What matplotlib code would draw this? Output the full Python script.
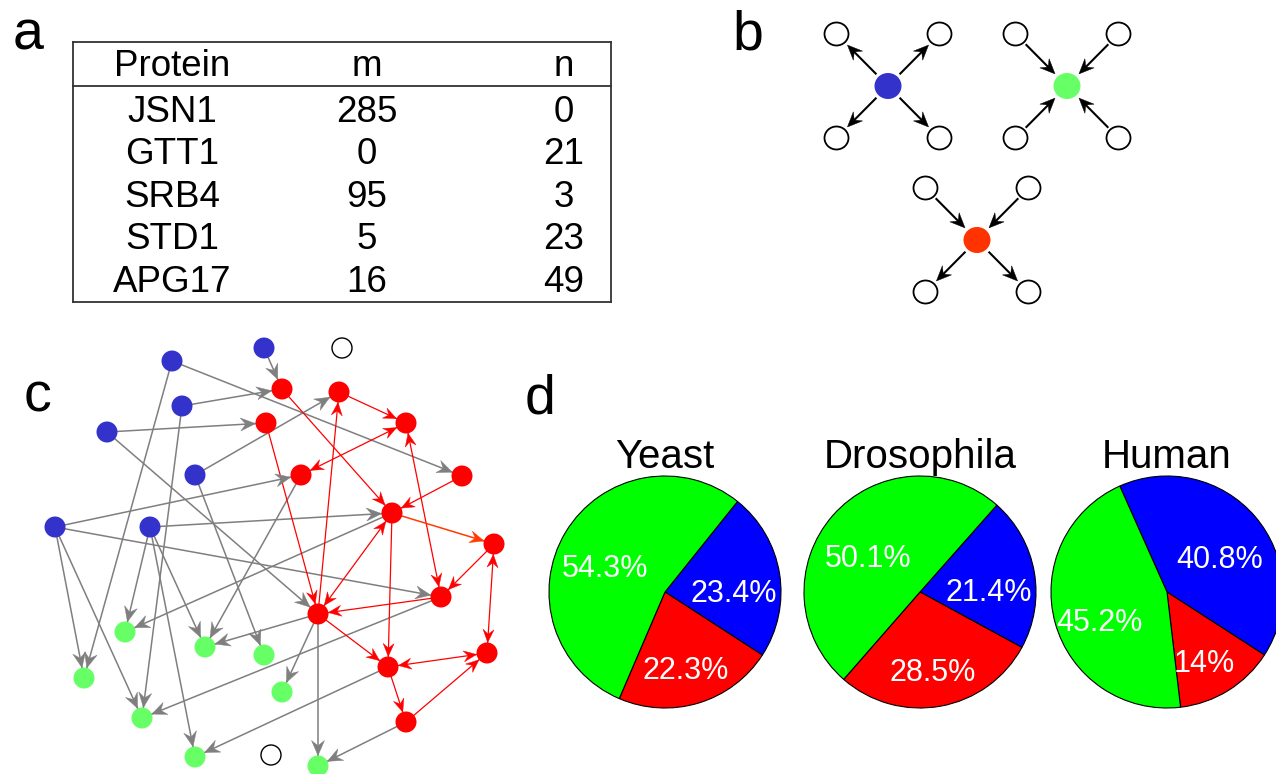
import numpy as np
import matplotlib
matplotlib.use('Agg')
import matplotlib.pyplot as plt
from matplotlib.patches import Circle, Ellipse, Polygon

plt.rcParams['font.family'] = ['Liberation Sans', 'DejaVu Sans']

W, H = 1276, 774

# ---- panel a: table ----
table_header = ['Protein', 'm', 'n']
proteins = ['JSN1', 'GTT1', 'SRB4', 'STD1', 'APG17']
m_vals = [285, 0, 95, 5, 16]
n_vals = [0, 21, 3, 23, 49]

# ---- panel c: network ----
blue_nodes = ['B1', 'B2', 'B3', 'B4', 'B5', 'B6', 'B7']
red_nodes = ['R1', 'R2', 'R3', 'R4', 'R5', 'R6', 'R7', 'R8', 'R9', 'R10', 'R11', 'R12', 'R13']
green_nodes = ['G1', 'G2', 'G3', 'G4', 'G5', 'G6', 'G7', 'G8']
isolated_nodes = ['E1', 'E2']

gray_edges = [('B2', 'R1'), ('B3', 'R1'), ('B1', 'R6'), ('B4', 'R3'), ('B4', 'R9'),
              ('B5', 'R2'), ('B5', 'G3'), ('B6', 'R5'), ('B6', 'R10'), ('B6', 'G4'),
              ('B6', 'G6'), ('B1', 'G4'), ('B3', 'G6'), ('B7', 'R7'), ('B7', 'G1'),
              ('B7', 'G2'), ('B7', 'G7'), ('R5', 'G2'), ('R7', 'G1'), ('R9', 'G2'),
              ('R9', 'G5'), ('R9', 'G8'), ('R10', 'G6'), ('R12', 'G7'), ('R13', 'G8')]
red_edges = [('R1', 'R7'), ('R2', 'R4'), ('R6', 'R7'), ('R3', 'R9'), ('R9', 'R2'),
             ('R7', 'R12'), ('R8', 'R10'), ('R10', 'R9'), ('R9', 'R12'), ('R12', 'R13'),
             ('R13', 'R11')]
red_mutual = [('R4', 'R5'), ('R7', 'R9'), ('R4', 'R10'), ('R8', 'R11'), ('R12', 'R11')]
orange_edges = [('R7', 'R8')]

# ---- panel d: pies ----
species = ['Yeast', 'Drosophila', 'Human']
blue_pct = [23.4, 21.4, 40.8]
red_pct = [22.3, 28.5, 14.0]
green_pct = [54.3, 50.1, 45.2]
start_angles = [51.3, 48.5, 114]

# layout (pixel positions, y downwards)
layout = {
    'B1': (172, 361), 'B2': (264, 348), 'B3': (182, 406), 'B4': (107, 432),
    'B5': (195, 475), 'B6': (55, 527), 'B7': (150, 527),
    'R1': (282, 389), 'R2': (339, 392), 'R3': (266, 423), 'R4': (406, 423),
    'R5': (301, 475), 'R6': (462, 476), 'R7': (392, 513), 'R8': (494, 544),
    'R9': (318, 614), 'R10': (441, 597), 'R11': (487, 653), 'R12': (388, 667),
    'R13': (406, 722),
    'G1': (125, 632), 'G2': (205, 647), 'G3': (264, 655), 'G4': (84, 678),
    'G5': (282, 692), 'G6': (142, 718), 'G7': (195, 757), 'G8': (318, 766),
    'E1': (342, 348), 'E2': (271, 755),
}
NODE_R = 10.5

fig = plt.figure(figsize=(W / 100, H / 100), dpi=100)
ax = fig.add_axes([0, 0, 1, 1])
ax.set_xlim(0, W)
ax.set_ylim(H, 0)
ax.axis('off')


def arrow_head(tip, u, length, width, color, z=3):
    u = np.asarray(u, float)
    p = np.array([-u[1], u[0]])
    tip = np.asarray(tip, float)
    back = tip - length * u
    notch = tip - 0.65 * length * u
    pts = [tip, back + p * width / 2, notch, back - p * width / 2]
    ax.add_patch(Polygon(pts, closed=True, fc=color, ec=color, lw=0.3, zorder=z))
    return notch


def edge(a, b, color, lw, both=False, L=14, Wd=12):
    pa = np.array(layout[a], float)
    pb = np.array(layout[b], float)
    u = (pb - pa) / np.linalg.norm(pb - pa)
    ax.plot([pa[0], pb[0]], [pa[1], pb[1]], color=color, lw=lw, zorder=2,
            solid_capstyle='butt')
    arrow_head(pb - u * NODE_R, u, L, Wd, color)
    if both:
        arrow_head(pa + u * NODE_R, -u, L, Wd, color)


# ---- panel a ----
tx0, tx1, ty0, ty1, ty_head = 73, 611, 42, 302, 86
for xs, ys in [([tx0, tx1], [ty0, ty0]), ([tx0, tx1], [ty1, ty1]),
               ([tx0, tx0], [ty0, ty1]), ([tx1, tx1], [ty0, ty1]),
               ([tx0, tx1], [ty_head, ty_head])]:
    ax.plot(xs, ys, color='#333333', lw=1.3, solid_capstyle='projecting')
col_x = [172, 367, 564]
for cx, label in zip(col_x, table_header):
    ax.text(cx, 76, label, ha='center', va='baseline', fontsize=26.5)
row_base = 121.7
row_step = 42.5
for i, (p, m, n) in enumerate(zip(proteins, m_vals, n_vals)):
    yb = row_base + i * row_step
    for cx, s in zip(col_x, [p, str(m), str(n)]):
        ax.text(cx, yb, s, ha='center', va='baseline', fontsize=26.5)

# panel letters
for s, (x, y) in {'a': (28, 49), 'b': (748, 50), 'c': (38, 412), 'd': (540, 413)}.items():
    ax.text(x, y, s, ha='center', va='baseline', fontsize=40)

# ---- panel b: motifs ----
motifs = [((888, 86), '#3333cc', ['out', 'out', 'out', 'out']),
          ((1067, 86), '#66ff66', ['in', 'in', 'in', 'in']),
          ((977, 240), '#ff3300', ['in', 'in', 'out', 'out'])]
offsets = [(-51.5, -52), (51.5, -52), (-51.5, 52), (51.5, 52)]
for (cx, cy), col, dirs in motifs:
    ax.add_patch(Ellipse((cx, cy), 27, 26, fc=col, ec='none', zorder=4))
    for (dx, dy), d in zip(offsets, dirs):
        sx, sy = cx + dx, cy + dy
        ax.add_patch(Ellipse((sx, sy), 24, 23, fc='white', ec='black', lw=1.3, zorder=4))
        c = np.array([cx, cy], float)
        s = np.array([sx, sy], float)
        u = (s - c) / np.linalg.norm(s - c)
        if d == 'out':
            start, tip, uu = c + 17.5 * u, s - 15.5 * u, u
        else:
            start, tip, uu = s - 15.5 * u, c + 17 * u, -u
        notch = arrow_head(tip, uu, 15, 13, 'black')
        ax.plot([start[0], notch[0]], [start[1], notch[1]], color='black', lw=1.5, zorder=3)

# ---- panel c ----
for a, b in gray_edges:
    edge(a, b, '#7f7f7f', 1.1, L=15, Wd=13)
for a, b in red_edges:
    edge(a, b, '#ff0000', 0.9, L=13, Wd=11)
for a, b in red_mutual:
    edge(a, b, '#ff0000', 0.9, both=True, L=13, Wd=11)
for a, b in orange_edges:
    edge(a, b, '#ff3c00', 1.1, L=14, Wd=12)

for names, col in [(blue_nodes, '#3333cc'), (red_nodes, '#ff0000'), (green_nodes, '#66ff66')]:
    for nm in names:
        ax.add_patch(Circle(layout[nm], NODE_R, fc=col, ec='none', zorder=4))
for nm in isolated_nodes:
    ax.add_patch(Circle(layout[nm], 10, fc='white', ec='black', lw=1.0, zorder=4))

# ---- panel d: pies ----
pie_cx = [665, 920, 1167]
pie_cy = 592
pie_r = 116
for i, name in enumerate(species):
    pax = fig.add_axes([(pie_cx[i] - pie_r) / W, (H - pie_cy - pie_r) / H,
                        2 * pie_r / W, 2 * pie_r / H])
    vals = [blue_pct[i], red_pct[i], green_pct[i]]
    wedges, texts, autotexts = pax.pie(
        vals, colors=['#0000ff', '#ff0000', '#00ff00'], startangle=start_angles[i],
        counterclock=False, autopct=lambda v: f'{v:g}%', pctdistance=0.6,
        wedgeprops=dict(edgecolor='black', linewidth=0.8),
        textprops=dict(color='white', fontsize=22))
    for w in wedges:
        w.set_clip_on(False)
    # labels sit a little lower than the wedge midpoints in the original
    for t in autotexts:
        x, y = t.get_position()
        t.set_position((x, y - 0.11))
    pax.set_xlim(-1, 1)
    pax.set_ylim(-1, 1)
    pax.set_aspect('equal')
    pax.axis('off')
    pax.text(0, 1.07, name, ha='center', va='baseline', fontsize=29, clip_on=False)

fig.savefig('out.png', dpi=100)
